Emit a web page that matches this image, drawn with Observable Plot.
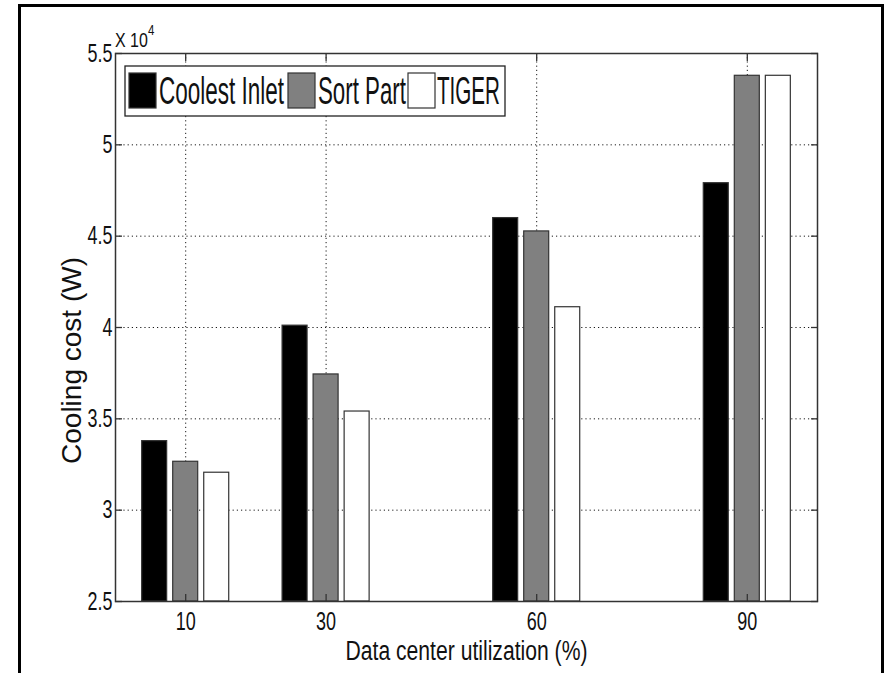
<!DOCTYPE html>
<html>
<head>
<meta charset="utf-8">
<script src="https://cdn.jsdelivr.net/npm/d3@7"></script>
<script src="https://cdn.jsdelivr.net/npm/@observablehq/plot@0.6"></script>
<style>
  html, body { margin: 0; padding: 0; background: #fff; }
  #chart { width: 888px; height: 673px; }
</style>
</head>
<body>
<div id="chart"></div>
<script>
// ---- data ----
const utilization = [10, 30, 60, 90];
const seriesNames = ["Coolest Inlet", "Sort Part", "TIGER"];
const coolestInlet = [33780, 40100, 45990, 47900];
const sortPart = [32650, 37430, 45260, 53780];
const tiger = [32050, 35400, 41110, 53780];
const yTicks = [25000, 30000, 35000, 40000, 45000, 50000, 55000];
const xTicks = [10, 30, 60, 90];
const seriesColors = ["#000000", "#808080", "#ffffff"];
const xTitle = "Data center utilization (%)";
const yTitle = "Cooling cost (W)";

// ---- build table ----
const values = [coolestInlet, sortPart, tiger];
const rows = [];
seriesNames.forEach((s, i) => {
  utilization.forEach((u, j) => rows.push({ util: u, series: s, idx: i, value: values[i][j] }));
});

const GROUP_OFF = 4.42;  // in x units
const BAR_W = 3.56;      // in x units
const Y0 = yTicks[0];
const FONT = "'Liberation Sans', Arial, Helvetica, sans-serif";

const plot = Plot.plot({
  width: 888,
  height: 673,
  marginLeft: 115,
  marginRight: 71,
  marginTop: 53,
  marginBottom: 72,
  style: { fontFamily: FONT, background: "#fff", color: "#000" },
  x: { domain: [0, 100], label: null },
  y: { domain: [25000, 55000], label: null },
  color: { domain: seriesNames, range: seriesColors },
  marks: [
    Plot.gridX(xTicks, { stroke: "#000", strokeOpacity: 0.9, strokeWidth: 1, strokeDasharray: "1.2,3" }),
    Plot.gridY(yTicks, { stroke: "#000", strokeOpacity: 0.9, strokeWidth: 1, strokeDasharray: "1.2,3" }),
    Plot.rect(rows, {
      x1: d => d.util + (d.idx - 1) * GROUP_OFF - BAR_W / 2,
      x2: d => d.util + (d.idx - 1) * GROUP_OFF + BAR_W / 2,
      y1: Y0,
      y2: "value",
      fill: "series",
      stroke: "#333",
      strokeWidth: 1.2
    }),
    Plot.frame({ stroke: "#333", strokeWidth: 1.5 }),
    // inward ticks on all sides
    Plot.axisX(xTicks, { anchor: "bottom", tickSize: -7, text: null, stroke: "#333", strokeWidth: 1.3 }),
    Plot.axisX(xTicks, { anchor: "top", tickSize: -7, text: null, stroke: "#333", strokeWidth: 1.3 }),
    Plot.axisY(yTicks, { anchor: "left", tickSize: -7, text: null, stroke: "#333", strokeWidth: 1.3 }),
    Plot.axisY(yTicks, { anchor: "right", tickSize: -7, text: null, stroke: "#333", strokeWidth: 1.3 }),
    // tick labels
    Plot.axisX(xTicks, { anchor: "bottom", tickSize: 0, tickPadding: 11, fontSize: 25, fill: "#111", label: null }),
    Plot.axisY(yTicks, { anchor: "left", tickSize: 0, tickPadding: 3, fontSize: 26, fill: "#111", label: null, tickFormat: d => d / 10000 }),
    // axis titles
    Plot.text([xTitle], { frameAnchor: "bottom", lineAnchor: "middle", textAnchor: "middle", dy: 50, fontSize: 28, fill: "#111" }),
    Plot.text([yTitle], { frameAnchor: "left", textAnchor: "middle", lineAnchor: "middle", rotate: -90, dx: -43, dy: 33, fontSize: 28, fill: "#111" })
  ]
});

document.getElementById("chart").appendChild(plot);

// squeeze a text horizontally around its anchor (the reference font is strongly condensed)
function condense(sel, factor) {
  sel.each(function () {
    const t = this.getAttribute("transform") || "";
    const x = +this.getAttribute("x") || 0;
    this.setAttribute("transform", `${t} translate(${x},0) scale(${factor},1) translate(${-x},0)`);
  });
}

const svg = d3.select(plot);

condense(svg.selectAll("g[aria-label='x-axis tick label'] text"), 0.72);
condense(svg.selectAll("g[aria-label='y-axis tick label'] text"), 0.69);
condense(svg.selectAll("text").filter(function () { return this.textContent === xTitle; }), 0.755);

// outer border (open at the bottom)
svg.append("path")
  .attr("d", "M19.5,673 L19.5,5.5 L882.5,5.5 L882.5,673")
  .attr("fill", "none").attr("stroke", "#000").attr("stroke-width", 3);

// exponent label
const expo = svg.append("text")
  .attr("text-anchor", "start")
  .attr("transform", "translate(115,47) scale(0.82,1)")
  .attr("font-family", FONT).attr("font-size", 19.5).attr("fill", "#111");
expo.append("tspan").text("X 10");
expo.append("tspan").attr("dy", -12).attr("font-size", 14).text("4");

// legend
const lg = svg.append("g");
lg.append("rect").attr("x", 125).attr("y", 66).attr("width", 380).attr("height", 50)
  .attr("fill", "#fff").attr("stroke", "#222").attr("stroke-width", 1.3);
const items = [
  { x: 129, tx: 159, w: 125 },
  { x: 288, tx: 318, w: 88 },
  { x: 408, tx: 437, w: 63 }
];
seriesNames.forEach((s, i) => {
  lg.append("rect").attr("x", items[i].x).attr("y", 73).attr("width", 27).attr("height", 35)
    .attr("fill", seriesColors[i]).attr("stroke", "#333").attr("stroke-width", 1.2);
  const t = lg.append("text").attr("text-anchor", "start")
    .attr("font-family", FONT).attr("font-size", 38).attr("fill", "#111").text(s);
  const natural = t.node().getComputedTextLength();
  t.attr("transform", `translate(${items[i].tx},104) scale(${(items[i].w / natural).toFixed(4)},1)`);
});
</script>
</body>
</html>
